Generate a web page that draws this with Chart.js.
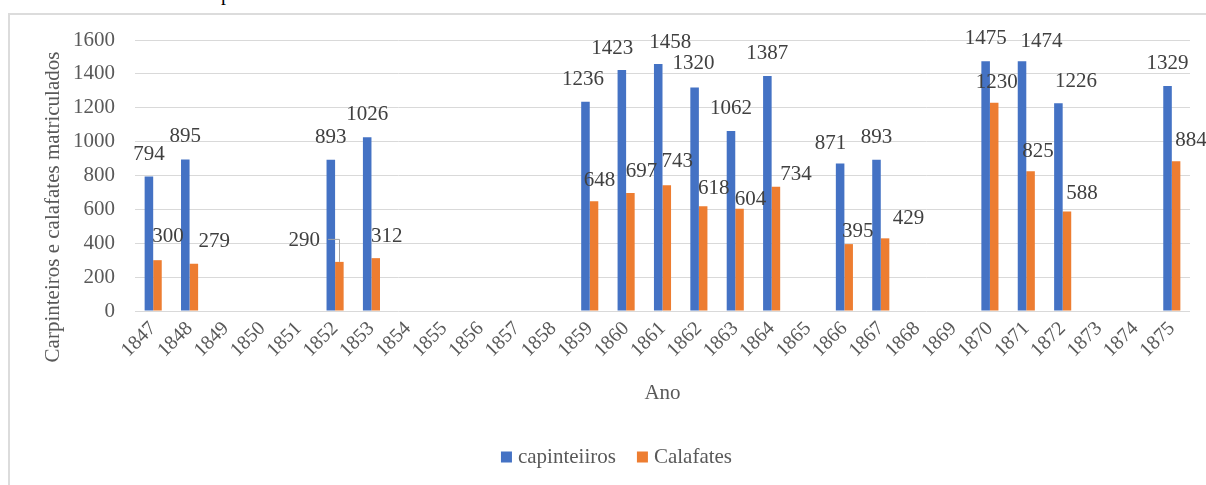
<!DOCTYPE html>
<html><head><meta charset="utf-8">
<script src="https://cdn.jsdelivr.net/npm/chart.js@4.4.0/dist/chart.umd.min.js"></script>
<style>
html,body{margin:0;padding:0;background:#fff;width:1206px;height:485px;overflow:hidden;}
#frame{position:absolute;left:8px;top:13px;width:1300px;height:600px;border-left:2px solid #dcdcdc;border-top:2px solid #dcdcdc;}
#cap{position:absolute;left:221px;top:-17px;font:20px "Liberation Serif",serif;color:#000;line-height:20px;}
#wrap{position:absolute;left:0;top:0;width:1206px;height:485px;}
</style></head><body>
<div id="cap">p</div>
<div id="frame"></div>
<div id="wrap"><canvas id="c" width="1206" height="485" style="width:1206px;height:485px"></canvas></div>
<script>
// ---- data ----
const years = ['1847','1848','1849','1850','1851','1852','1853','1854','1855','1856','1857','1858','1859','1860','1861','1862','1863','1864','1865','1866','1867','1868','1869','1870','1871','1872','1873','1874','1875'];
const carpinteiros = [794,895,null,null,null,893,1026,null,null,null,null,null,1236,1423,1458,1320,1062,1387,null,871,893,null,null,1475,1474,1226,null,null,1329];
const calafates = [300,279,null,null,null,290,312,null,null,null,null,null,648,697,743,618,604,734,null,395,429,null,null,1230,825,588,null,null,884];
const yTickValues = [0,200,400,600,800,1000,1200,1400,1600];
const seriesNames = ['capinteiiros','Calafates'];
const axisTitles = {x:'Ano', y:'Carpinteiros e calafates matriculados'};

// label nudges (dx, dy of label centre relative to bar top-centre), by year
const blueNudge = {1860:[-9.5,-22.5],1861:[12,-23.5],1862:[-1,-25],1866:[-9.5,-21],1871:[19.5,-21],1872:[17.5,-23],1859:[-2.5,-24]};
const orangeNudge = {1847:[10.5,-25],1848:[20.5,-24],1852:[-35,-23],1853:[11,-23],1859:[5.5,-22],1860:[11,-22.5],1861:[10.5,-25],1862:[10.5,-19],1863:[11,-11],1864:[20,-14],1866:[9,-14],1867:[23.5,-21],1870:[2.5,-22],1871:[7.5,-21],1872:[15,-19],1875:[15,-22]};
const leaderYears = ['1852'];

const FONT = '"Liberation Serif", "DejaVu Serif", serif';
const BLUE = '#4472C4', ORANGE = '#ED7D31';

const extrasPlugin = {
  id:'extras',
  afterDatasetsDraw(chart){
    const ctx = chart.ctx;
    ctx.save();
    ctx.font = '21px ' + FONT;
    ctx.fillStyle = '#404040';
    ctx.textAlign = 'center';
    ctx.textBaseline = 'alphabetic';
    chart.data.datasets.forEach((ds,i)=>{
      const meta = chart.getDatasetMeta(i);
      meta.data.forEach((bar,j)=>{
        const v = ds.data[j];
        if (v == null) return;
        const yr = years[j];
        const n = i===0 ? (blueNudge[yr] || [0,-24]) : (orangeNudge[yr] || [11,-22]);
        const lx = bar.x + n[0], ly = bar.y + n[1];
        ctx.fillText(String(v), lx, ly + 7);
        if (i===1 && leaderYears.includes(yr)) {
          const w = ctx.measureText(String(v)).width;
          ctx.save();
          ctx.strokeStyle = '#a6a6a6'; ctx.lineWidth = 1;
          ctx.beginPath();
          ctx.moveTo(lx + w/2 + 8, ly + 0.5);
          ctx.lineTo(Math.round(bar.x)+0.5, ly + 0.5);
          ctx.lineTo(Math.round(bar.x)+0.5, bar.y);
          ctx.stroke();
          ctx.restore();
        }
      });
    });
    ctx.restore();
  },
  afterDraw(chart){
    const ctx = chart.ctx;
    // y axis title
    ctx.save();
    ctx.font = '21px ' + FONT;
    ctx.fillStyle = '#595959';
    ctx.translate(53, 207);
    ctx.rotate(-Math.PI/2);
    ctx.textAlign = 'center';
    ctx.textBaseline = 'middle';
    ctx.fillText(axisTitles.y, 0, 0);
    ctx.restore();
    // legend
    ctx.save();
    ctx.font = '21px ' + FONT;
    ctx.textBaseline = 'middle';
    ctx.textAlign = 'left';
    const box = 11, gap = 6, itemGap = 21;
    const w0 = ctx.measureText(seriesNames[0]).width, w1 = ctx.measureText(seriesNames[1]).width;
    const total = box+gap+w0+itemGap+box+gap+w1;
    let x = 616.5 - total/2;
    const cy = 457;
    const cols = [BLUE, ORANGE];
    [w0,w1].forEach((w,k)=>{
      ctx.fillStyle = cols[k];
      ctx.fillRect(x, cy-5.5, box, box);
      ctx.fillStyle = '#595959';
      ctx.fillText(seriesNames[k], x+box+gap, cy);
      x += box+gap+w+itemGap;
    });
    ctx.restore();
  }
};

Chart.defaults.font.family = FONT;
new Chart(document.getElementById('c'), {
  type:'bar',
  data:{
    labels: years,
    datasets:[
      {label:seriesNames[0], data:carpinteiros, backgroundColor:BLUE, categoryPercentage:0.47, barPercentage:1.0},
      {label:seriesNames[1], data:calafates, backgroundColor:ORANGE, categoryPercentage:0.47, barPercentage:1.0}
    ]
  },
  options:{
    responsive:false,
    animation:false,
    events:[],
    layout:{padding:{top:40,left:0,right:16,bottom:74}},
    plugins:{legend:{display:false}, tooltip:{enabled:false}, title:{display:false}},
    scales:{
      x:{
        grid:{display:false, drawTicks:false},
        border:{display:false},
        ticks:{font:{size:20}, color:'#595959', maxRotation:45, minRotation:45, autoSkip:false, padding:6},
        title:{display:true, text:axisTitles.x, font:{size:21}, color:'#595959', padding:{top:0,bottom:5}},
        afterFit(s){ s.height = 100; }
      },
      y:{
        min:0, max:1600,
        afterBuildTicks(s){ s.ticks = yTickValues.map(v=>({value:v})); },
        grid:{color:'#d9d9d9', lineWidth:1, drawTicks:false},
        border:{display:false},
        ticks:{font:{size:21}, color:'#595959', padding:20, callback:(v)=>String(v)},
        afterFit(s){ s.width = 135; }
      }
    }
  },
  plugins:[extrasPlugin]
});
</script>
</body></html>
